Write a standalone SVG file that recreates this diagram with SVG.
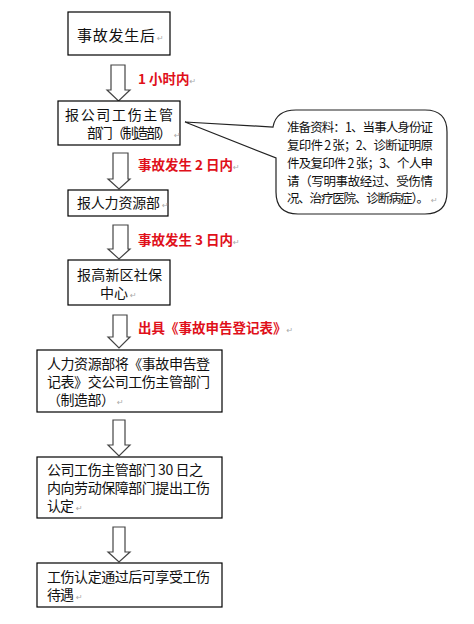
<svg xmlns="http://www.w3.org/2000/svg" width="474" height="624" viewBox="0 0 474 624">
<style>
.box{fill:#fff;stroke:#000;stroke-width:1.2}
.arr{fill:#fff;stroke:#444;stroke-width:1.2;stroke-linejoin:miter}
.t{font-family:"Noto Sans CJK SC","Noto Sans",sans-serif;font-size:14px;fill:#111}
.r{font-family:"Noto Sans CJK SC","Noto Sans",sans-serif;font-size:13.5px;font-weight:bold;fill:#e0101a}
.c{font-family:"Noto Sans CJK SC","Noto Sans",sans-serif;font-size:12.5px;fill:#111}
.pm{font-family:"DejaVu Sans",sans-serif;font-size:8px;fill:#aaa;font-weight:normal}
.call{fill:#fff;stroke:#222;stroke-width:1.2}
</style>
<rect width="474" height="624" fill="#fff"/>
<g id="connectors">
<path class="arr" d="M111,65 H125 V90 H130 L118.5,101 L107,90 H111 Z"/>
<path class="arr" d="M113,153 H128 V179 H130 L119,189 L108,179 H113 Z"/>
<path class="arr" d="M113,225 H128 V249 H130 L119,259 L108,249 H113 Z"/>
<path class="arr" d="M113,315 H127 V337 H130 L119,348 L108,337 H113 Z"/>
<path class="arr" d="M113,420 H125 V445 H130 L119,456 L108,445 H113 Z"/>
<path class="arr" d="M113,527 H125 V552 H130 L119,562 L108,552 H113 Z"/>
<text class="r" x="138" y="84">1 小时内<tspan class="pm">↵</tspan></text>
<text class="r" x="138" y="170">事故发生 2 日内<tspan class="pm">↵</tspan></text>
<text class="r" x="138" y="245">事故发生 3 日内<tspan class="pm">↵</tspan></text>
<text class="r" x="138" y="333">出具《事故申告登记表》<tspan class="pm">↵</tspan></text>
</g>
<g id="n1">
<rect class="box" x="68" y="12" width="102" height="43"/>
<text class="t" x="77" y="41" style="font-size:15px"><tspan textLength="78">事故发生后</tspan><tspan class="pm" x="157">↵</tspan></text>
</g>
<g id="n2">
<rect class="box" x="58" y="101" width="122" height="44"/>
<text class="t"><tspan x="65" y="120" textLength="108">报公司工伤主管</tspan><tspan x="87" y="138" textLength="85">部门（制造部）</tspan><tspan class="pm" x="174">↵</tspan></text>
</g>
<g id="callout">
<path class="call" d="M296,110 H425 Q447,110 447,132 V192 Q447,214 425,214 H298 Q276,214 276,192 V158 L185,122 L273,127 Q276,110 296,110 Z"/>
<text class="c"><tspan x="287" y="132" textLength="146">准备资料：1、当事人身份证</tspan><tspan x="287" y="150" textLength="146">复印件 2 张；2、诊断证明原</tspan><tspan x="287" y="168" textLength="146">件及复印件 2 张；3、个人申</tspan><tspan x="287" y="186" textLength="146">请（写明事故经过、受伤情</tspan><tspan x="287" y="203" textLength="142">况、治疗医院、诊断病症）。</tspan><tspan class="pm" x="431">↵</tspan></text>
</g>
<g id="n3">
<rect class="box" x="68" y="190" width="100" height="26"/>
<text class="t" x="77" y="208"><tspan textLength="83">报人力资源部</tspan><tspan class="pm" x="162">↵</tspan></text>
</g>
<g id="n4">
<rect class="box" x="68" y="260" width="102" height="45"/>
<text class="t"><tspan x="77" y="280" textLength="85">报高新区社保</tspan><tspan x="100" y="298" textLength="28">中心</tspan><tspan class="pm" x="130">↵</tspan></text>
</g>
<g id="n5">
<rect class="box" x="37" y="350" width="185" height="62"/>
<text class="t"><tspan x="47" y="369" textLength="163">人力资源部将《事故申告登</tspan><tspan x="47" y="387" textLength="163">记表》交公司工伤主管部门</tspan><tspan x="47" y="405" textLength="68">（制造部）</tspan><tspan class="pm" x="117">↵</tspan></text>
</g>
<g id="n6">
<rect class="box" x="37" y="457" width="185" height="61"/>
<text class="t"><tspan x="47" y="475" textLength="156">公司工伤主管部门 30 日之</tspan><tspan x="47" y="493" textLength="163">内向劳动保障部门提出工伤</tspan><tspan x="47" y="511" textLength="27">认定</tspan><tspan class="pm" x="76">↵</tspan></text>
</g>
<g id="n7">
<rect class="box" x="37" y="563" width="185" height="44"/>
<text class="t"><tspan x="47" y="582" textLength="163">工伤认定通过后可享受工伤</tspan><tspan x="47" y="600" textLength="27">待遇</tspan><tspan class="pm" x="76">↵</tspan></text>
</g>
</svg>
